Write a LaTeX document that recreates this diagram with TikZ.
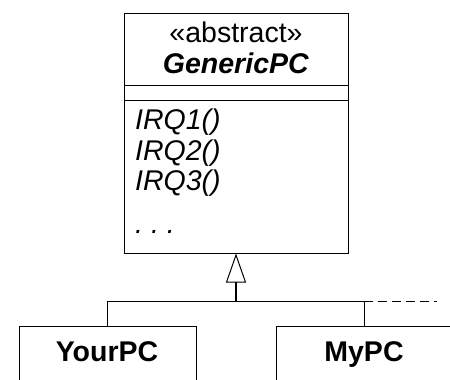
\documentclass[tikz,border=0pt]{standalone}
\usepackage{fontspec}
\setmainfont{Liberation Sans}
\usetikzlibrary{arrows.meta}
\begin{document}
\begin{tikzpicture}[x=1pt,y=-1pt,
  txt/.style={inner sep=0pt,anchor=base,font=\fontsize{28.5}{31}\selectfont},
  ltxt/.style={txt,anchor=base west},
  boxline/.style={draw=black,line width=1pt},
  inh/.style={line width=1pt},
  gen/.style={-{Triangle[open,length=29pt,width=20pt,line width=1pt]},line width=1.6pt}]
\useasboundingbox (0,0) rectangle (450,380);
\clip (0,0) rectangle (450,380);
\fill[white] (0,0) rectangle (450,380);
% abstract class
\node[boxline,minimum width=224pt,minimum height=240pt,inner sep=0pt] (gpc) at (236,133) {};
\draw[boxline] (124,85) -- (348,85);
\draw[boxline] (124,100) -- (348,100);
\node[txt] (st) at (236,42) {«abstract»};
\node[txt] (nm) at (236,73) {\textbf{\textit{GenericPC}}};
\node[ltxt] (m1) at (135,129) {\textit{IRQ1()}};
\node[ltxt] (m2) at (135,160) {\textit{IRQ2()}};
\node[ltxt] (m3) at (135,190) {\textit{IRQ3()}};
\node[ltxt] (m4) at (135,233) {\textit{.\ .\ .}};
% subclasses
\node[boxline,minimum width=177pt,minimum height=80pt,inner sep=0pt] (your) at (107.5,366) {};
\node[txt] (yt) at (107,361) {\textbf{YourPC}};
\node[boxline,minimum width=200pt,minimum height=80pt,inner sep=0pt] (my) at (376,366) {};
\node[txt] (mt) at (364,361) {\textbf{MyPC}};
% connectors
\coordinate (j) at (236,301);
\coordinate (jl) at (107,301);
\coordinate (jr) at (364,301);
\coordinate (jd) at (437,301);
\draw[gen] (j) -- (gpc.south);
\draw[inh] (jl) -- (jr);
\draw[inh] (jl) -- (jl |- your.north);
\draw[inh] (jr) -- (jr |- my.north);
\draw[inh,dash pattern=on 9pt off 5pt] (jr) -- (jd);
\end{tikzpicture}
\end{document}
